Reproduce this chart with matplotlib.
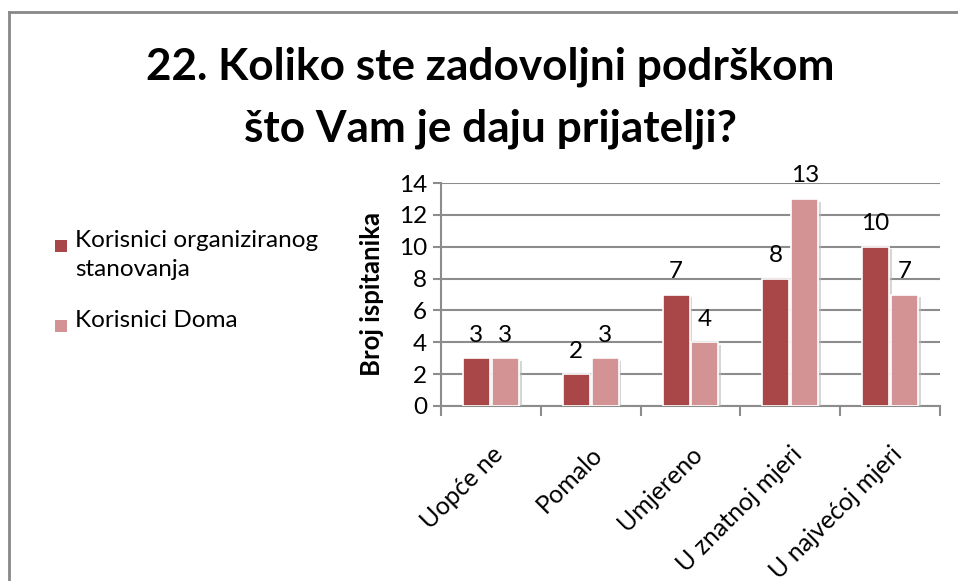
import numpy as np
import matplotlib
matplotlib.use("Agg")
import matplotlib.pyplot as plt
from matplotlib.lines import Line2D
from matplotlib.patches import Rectangle
import matplotlib.patheffects as pe

plt.rcParams['font.family'] = ['Lato', 'DejaVu Sans']

# data
categories = ["Uopće ne", "Pomalo", "Umjereno", "U znatnoj mjeri", "U najvećoj mjeri"]
series_names = ["Korisnici organiziranog\nstanovanja", "Korisnici Doma"]
organizirano = [3, 2, 7, 8, 10]
dom = [3, 3, 4, 13, 7]
yticks = [0, 2, 4, 6, 8, 10, 12, 14]

dark = "#A94748"
light = "#D39293"
grid_col = "#8C8C8C"

fig = plt.figure(figsize=(9.58, 5.81), dpi=100)
ax = fig.add_axes([441 / 958, 1 - 406 / 581, 499 / 958, 223 / 581])

x = np.arange(len(categories))
w = 0.27
shadow = [pe.SimplePatchShadow(offset=(2, -2), shadow_rgbFace="#bbbbbb", alpha=0.6), pe.Normal()]
b1 = ax.bar(x - 0.145, organizirano, w, color=dark, edgecolor="white", linewidth=1.2, zorder=3)
b2 = ax.bar(x + 0.145, dom, w, color=light, edgecolor="white", linewidth=1.2, zorder=3)
for b in list(b1) + list(b2):
    b.set_path_effects(shadow)

for bars, vals in ((b1, organizirano), (b2, dom)):
    for b, v in zip(bars, vals):
        ax.annotate(str(v), (b.get_x() + b.get_width() / 2, v), xytext=(0, 9),
                    textcoords="offset points", ha="center", va="bottom", fontsize=17.5)

ax.set_xlim(-0.5, len(categories) - 0.5)
ax.set_ylim(0, 14)
ax.set_yticks(yticks)
ax.tick_params(axis="y", labelsize=17.5, length=6, width=1.5, color=grid_col, direction="out", pad=4)
ax.set_xticks(x)
ax.set_xticklabels(categories, rotation=45, ha="right", rotation_mode="anchor", fontsize=18)
ax.tick_params(axis="x", which="major", length=0, pad=26)
ax.set_xticks(np.arange(len(categories) + 1) - 0.5, minor=True)
ax.tick_params(axis="x", which="minor", length=7, width=1.5, color=grid_col, direction="out")
ax.yaxis.grid(True, color=grid_col, linewidth=1.5, zorder=0)
ax.set_axisbelow(True)
for s in ("top", "right"):
    ax.spines[s].set_visible(False)
for s in ("left", "bottom"):
    ax.spines[s].set_color(grid_col)
    ax.spines[s].set_linewidth(1.5)
ax.set_ylabel("Broj ispitanika", fontsize=18.5, fontweight="bold", labelpad=11)

fig.text(490 / 958, 1 - 98 / 581, "22. Koliko ste zadovoljni podrškom\nšto Vam je daju prijatelji?",
         ha="center", va="center", fontsize=31.8, fontweight="bold", linespacing=1.65)

# legend drawn by hand in figure coords
leg_items = [(series_names[0], dark, 246), (series_names[1], light, 326)]
for name, col, ypix in leg_items:
    fig.patches.append(Rectangle((55 / 958, 1 - (ypix + 6) / 581), 12 / 958, 12 / 581,
                                 transform=fig.transFigure, facecolor=col, edgecolor="none"))
    fig.text(75 / 958, 1 - (ypix - 16) / 581, name, ha="left", va="top", fontsize=17.5, linespacing=1.5)

# outer frame (cropped)
fig.add_artist(Line2D([9 / 958, 9 / 958], [0, 1 - 12 / 581], color="#888888", linewidth=2))
fig.add_artist(Line2D([9 / 958, 1], [1 - 12 / 581, 1 - 12 / 581], color="#888888", linewidth=2))

fig.savefig("out.png", dpi=100)
